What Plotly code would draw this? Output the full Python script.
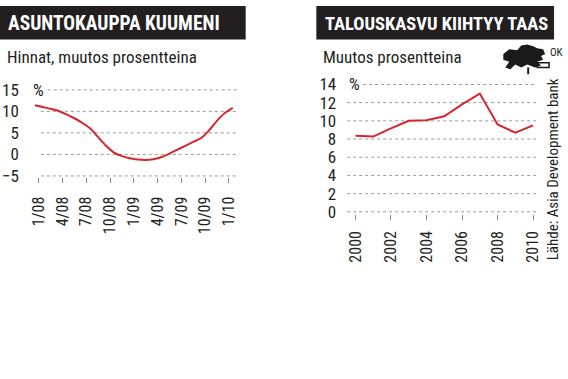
import plotly.graph_objects as go

W, H = 568, 379
FONT = "Roboto Condensed, DejaVu Sans Condensed, sans-serif"
RED = "#d6262d"
GRID = "#9a9a9a"
INK = "#231f20"

# ---- left chart data: house prices, monthly change %, 1/08 .. 2/10
left_months = list(range(26))
left_values = [11.4, 11.0, 10.6, 10.1, 9.3, 8.4, 7.3, 6.0, 4.0, 2.0, 0.4, -0.4, -0.9,
               -1.2, -1.3, -1.1, -0.6, 0.2, 1.1, 2.0, 2.9, 3.8, 5.6, 7.8, 9.6, 10.8]
left_tickvals = [0.5, 3.5, 6.5, 9.5, 12.5, 15.5, 18.5, 21.5, 24.5]
left_ticktext = ["1/08", "4/08", "7/08", "10/08", "1/09", "4/09", "7/09", "10/09", "1/10"]
left_yticks = [15, 10, 5, 0, -5]

# ---- right chart data: economic growth %, 2000..2010
right_years = list(range(2000, 2011))
right_values = [8.37, 8.27, 9.18, 10.0, 10.06, 10.5, 11.8, 13.0, 9.6, 8.7, 9.5]
right_xticks = [2000, 2002, 2004, 2006, 2008, 2010]
right_yticks = [14, 12, 10, 8, 6, 4, 2, 0]


def px(x):
    return x / W


def py(y):
    return 1 - y / H


fig = go.Figure()
fig.add_trace(go.Scatter(x=left_months, y=left_values, mode="lines",
                         line=dict(color=RED, width=2, shape="spline", smoothing=0.6),
                         xaxis="x", yaxis="y", hoverinfo="skip"))
fig.add_trace(go.Scatter(x=right_years, y=right_values, mode="lines",
                         line=dict(color=RED, width=2),
                         xaxis="x2", yaxis="y2", hoverinfo="skip"))

tickfont = dict(family=FONT, size=17, color=INK)
xtickfont = dict(family=FONT, size=16, color=INK)

fig.update_layout(
    width=W, height=H, margin=dict(l=0, r=0, t=0, b=0),
    paper_bgcolor="white", plot_bgcolor="rgba(0,0,0,0)", showlegend=False,
    xaxis=dict(domain=[px(28), px(240)], range=[-0.88, 25.75], tickvals=left_tickvals,
               ticktext=left_ticktext, tickangle=-90, ticks="outside", ticklen=5,
               tickcolor="#888", tickwidth=1, showgrid=False, zeroline=False, showline=False,
               tickfont=xtickfont, ticklabelstandoff=7, fixedrange=True),
    yaxis=dict(domain=[py(178.3), py(82.8)], range=[-5.3, 16], tickvals=left_yticks,
               showgrid=False, zeroline=False, showline=False, tickfont=tickfont,
               ticklabelstandoff=8, fixedrange=True),
    xaxis2=dict(domain=[px(345), px(542)], range=[1999.31, 2010.34], tickvals=right_xticks,
                tickangle=-90, ticks="outside", ticklen=5, tickcolor="#888", tickwidth=1,
                showgrid=False, zeroline=False, showline=False, tickfont=xtickfont,
                ticklabelstandoff=5, fixedrange=True, anchor="y2"),
    yaxis2=dict(domain=[py(216.2), py(72.2)], range=[-0.2, 15], tickvals=right_yticks,
                showgrid=False, zeroline=False, showline=False, tickfont=tickfont,
                ticklabelstandoff=6, fixedrange=True, anchor="x2"),
)

shapes = []
# dotted grid lines
for v in left_yticks:
    x0 = px(48) if v == left_yticks[0] else px(41)
    shapes.append(dict(type="line", xref="paper", yref="y", x0=x0, x1=px(238), y0=v, y1=v,
                       line=dict(color=GRID, width=1, dash="dot"), layer="below"))
for v in right_yticks:
    x0 = px(365) if v == right_yticks[0] else px(349)
    shapes.append(dict(type="line", xref="paper", yref="y2", x0=x0, x1=px(540), y0=v, y1=v,
                       line=dict(color=GRID, width=1, dash="dot"), layer="below"))
# title bars
shapes.append(dict(type="rect", xref="paper", yref="paper", x0=px(0), x1=px(247),
                   y0=py(35), y1=py(0), fillcolor=INK, line=dict(width=0)))
shapes.append(dict(type="rect", xref="paper", yref="paper", x0=px(318), x1=px(557),
                   y0=py(35), y1=py(0), fillcolor=INK, line=dict(width=0)))
fig.update_layout(shapes=shapes)

ann = []
ann.append(dict(text="ASUNTOKAUPPA KUUMENI", x=px(6), y=py(18.5), xref="paper", yref="paper",
                xanchor="left", yanchor="middle", showarrow=False,
                font=dict(family=FONT, size=19.5, color="white", weight="bold")))
ann.append(dict(text="TALOUSKASVU KIIHTYY TAAS", x=px(325), y=py(18.5), xref="paper", yref="paper",
                xanchor="left", yanchor="middle", showarrow=False,
                font=dict(family=FONT, size=18.5, color="white", weight="bold")))
ann.append(dict(text="Hinnat, muutos prosentteina", x=px(5), y=py(53), xref="paper", yref="paper",
                xanchor="left", yanchor="middle", showarrow=False,
                font=dict(family=FONT, size=17, color=INK)))
ann.append(dict(text="Muutos prosentteina", x=px(323), y=py(53), xref="paper", yref="paper",
                xanchor="left", yanchor="middle", showarrow=False,
                font=dict(family=FONT, size=17, color=INK)))
ann.append(dict(text="%", x=px(31), y=15, xref="paper", yref="y", xanchor="left",
                yanchor="middle", showarrow=False, font=dict(family=FONT, size=17, color=INK)))
ann.append(dict(text="%", x=px(349), y=14, xref="paper", yref="y2", xanchor="left",
                yanchor="middle", showarrow=False, font=dict(family=FONT, size=17, color=INK)))
ann.append(dict(text="Lähde: Asia Development bank", x=px(556), y=py(170), xref="paper",
                yref="paper", xanchor="center", yanchor="middle", textangle=-90,
                showarrow=False, font=dict(family=FONT, size=15, color=INK)))
ann.append(dict(text="OK", x=px(551), y=py(48), xref="paper", yref="paper", xanchor="left",
                yanchor="middle", showarrow=False, font=dict(family=FONT, size=11, color=INK)))
fig.update_layout(annotations=ann)

# small logo (rough silhouette)
logo = ("M 506 50 L 512 45 L 520 46 L 524 41 L 530 40 L 536 42 L 540 44 L 546 45 L 548 50 "
        "L 544 52 L 546 56 L 540 58 L 544 62 L 538 64 L 530 61 L 524 64 L 518 61 L 513 66 "
        "L 508 64 L 512 58 L 506 56 Z")


def to_paper(p):
    toks = p.split()
    out = []
    i = 0
    while i < len(toks):
        t = toks[i]
        if t in ("M", "L"):
            out.append(t)
            out.append(f"{px(float(toks[i+1])):.4f},{py(float(toks[i+2])):.4f}")
            i += 3
        else:
            out.append(t)
            i += 1
    return " ".join(out)


fig.add_shape(type="path", xref="paper", yref="paper", path=to_paper(logo),
              fillcolor="#1a1a1a", line=dict(width=0))
fig.add_shape(type="line", xref="paper", yref="paper", x0=px(531), x1=px(531), y0=py(64), y1=py(71),
              line=dict(color="#1a1a1a", width=2))
fig.add_shape(type="rect", xref="paper", yref="paper", x0=px(540), x1=px(552), y0=py(64), y1=py(59),
              fillcolor="rgba(0,0,0,0)", line=dict(color="#1a1a1a", width=1.5))

fig.write_html("out.html", config={"displayModeBar": False},
               post_script="document.body.style.margin='0';document.body.style.overflow='hidden';")
